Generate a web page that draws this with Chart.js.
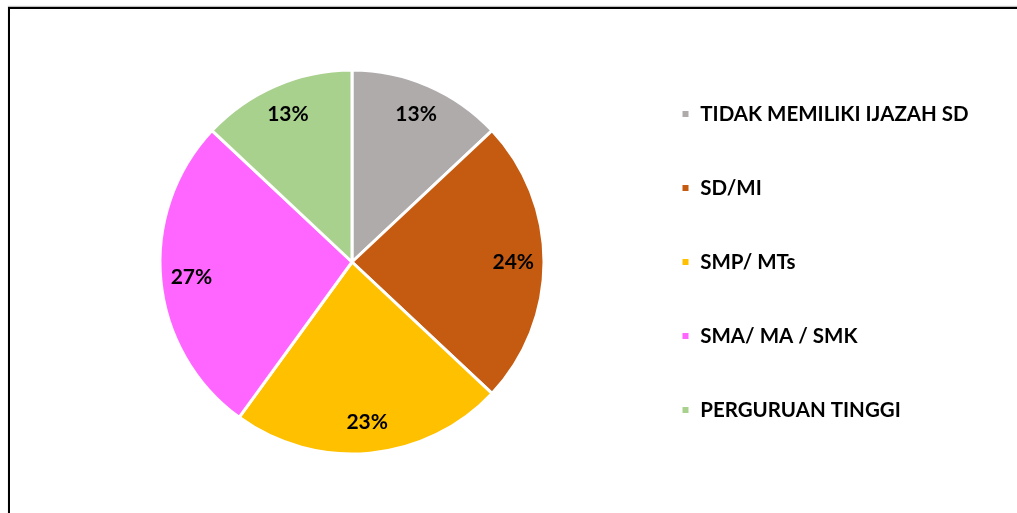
<!DOCTYPE html>
<html>
<head>
<meta charset="utf-8">
<script src="https://cdn.jsdelivr.net/npm/chart.js@4"></script>
<style>
  html, body { margin: 0; padding: 0; background: #fff; }
  #wrap { position: relative; width: 1017px; height: 513px; overflow: hidden; }
  #frame { position: absolute; left: 8px; top: 7px; width: 1100px; height: 600px;
           border-left: 2px solid #000; border-top: 2px solid #000;
           box-shadow: 0 -1px 1px rgba(0,0,0,0.25); }
  #c { position: absolute; left: 0; top: 0; }
</style>
</head>
<body>
<div id="wrap">
  <div id="frame"></div>
  <canvas id="c" width="1017" height="513"></canvas>
</div>
<script>
const categories = ['TIDAK MEMILIKI IJAZAH SD', 'SD/MI', 'SMP/ MTs', 'SMA/ MA / SMK', 'PERGURUAN TINGGI'];
const percentages = [13, 24, 23, 27, 13];
const sliceColors = ['#AFABAB', '#C55A11', '#FFC000', '#FF66FF', '#A9D18E'];

const FONT = 'Lato, "Open Sans", "DejaVu Sans", sans-serif';
const FONT_SIZE = 20.5;
const LABEL_SIZE = 21;

const sliceLabels = {
  id: 'sliceLabels',
  afterDatasetsDraw(chart) {
    const ctx = chart.ctx;
    const meta = chart.getDatasetMeta(0);
    ctx.save();
    ctx.font = 'bold ' + LABEL_SIZE + 'px ' + FONT;
    ctx.fillStyle = '#000';
    ctx.textAlign = 'center';
    ctx.textBaseline = 'middle';
    meta.data.forEach((arc, i) => {
      const p = arc.getProps(['x', 'y', 'startAngle', 'endAngle', 'outerRadius'], true);
      const mid = (p.startAngle + p.endAngle) / 2;
      const r = p.outerRadius * 0.84;
      ctx.fillText(percentages[i] + '%', p.x + Math.cos(mid) * r, p.y + Math.sin(mid) * r);
    });
    ctx.restore();
  }
};

function build() {
  const mctx = document.createElement('canvas').getContext('2d');
  mctx.font = 'bold ' + FONT_SIZE + 'px ' + FONT;
  const maxTextW = Math.max(...categories.map(t => mctx.measureText(t).width));
  const LEG_PAD = 53.5;
  const BOX = 9;
  const legendLeft = 683 - LEG_PAD;
  const padRight = Math.max(0, 1017 - (legendLeft + LEG_PAD + BOX + FONT_SIZE / 2 + maxTextW) - 8);
  const padLeft = 2 * 353 - legendLeft;

  new Chart(document.getElementById('c'), {
    type: 'pie',
    data: {
      labels: categories,
      datasets: [{
        data: percentages,
        backgroundColor: sliceColors,
        borderColor: '#ffffff',
        borderWidth: 3,
        radius: 192
      }]
    },
    options: {
      responsive: false,
      animation: false,
      layout: { padding: { left: padLeft, right: padRight, top: 11, bottom: 0 } },
      plugins: {
        tooltip: { enabled: false },
        legend: {
          position: 'right',
          labels: {
            boxWidth: BOX,
            boxHeight: BOX,
            padding: LEG_PAD,
            color: '#000',
            font: { family: FONT, size: FONT_SIZE, weight: 'bold' }
          }
        }
      }
    },
    plugins: [sliceLabels]
  });
}

if (document.fonts && document.fonts.load) {
  document.fonts.load('bold ' + FONT_SIZE + 'px Lato').then(build, build);
} else {
  build();
}
</script>
</body>
</html>
